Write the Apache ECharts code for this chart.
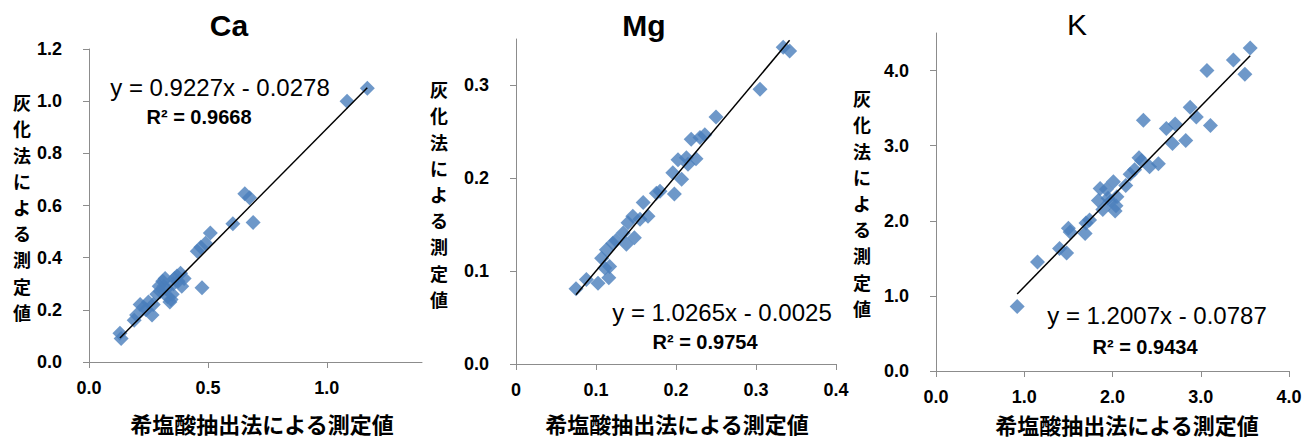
<!DOCTYPE html>
<html>
<head>
<meta charset="utf-8">
<script src="https://cdn.jsdelivr.net/npm/echarts@6/dist/echarts.min.js"></script>
<style>
html,body{margin:0;padding:0;background:#fff;}
#chart{width:1315px;height:439px;}
</style>
</head>
<body>
<div id="chart"></div>
<script>
// ---------- DATA ----------
const panelTitles = ['Ca', 'Mg', 'K'];
const xAxisName = '希塩酸抽出法による測定値';
const yAxisName = '灰化法による測定値';

const caX = [0.13, 0.135, 0.19, 0.20, 0.215, 0.23, 0.24, 0.25, 0.265, 0.27, 0.285, 0.295, 0.30, 0.31, 0.315, 0.32, 0.325, 0.33, 0.34, 0.345, 0.35, 0.355, 0.36, 0.37, 0.375, 0.385, 0.39, 0.40, 0.455, 0.47, 0.49, 0.475, 0.51, 0.605, 0.655, 0.675, 0.69, 1.085, 1.17];
const caY = [0.11, 0.09, 0.16, 0.18, 0.22, 0.21, 0.20, 0.23, 0.18, 0.22, 0.26, 0.29, 0.27, 0.31, 0.29, 0.32, 0.28, 0.25, 0.23, 0.24, 0.26, 0.30, 0.32, 0.33, 0.31, 0.34, 0.29, 0.32, 0.425, 0.44, 0.455, 0.285, 0.495, 0.53, 0.645, 0.63, 0.535, 1.00, 1.05];

const mgX = [0.075, 0.088, 0.1025, 0.107, 0.111, 0.113, 0.116, 0.117, 0.121, 0.125, 0.134, 0.138, 0.140, 0.146, 0.148, 0.155, 0.159, 0.165, 0.1755, 0.18, 0.196, 0.198, 0.2025, 0.207, 0.213, 0.215, 0.219, 0.225, 0.230, 0.236, 0.250, 0.305, 0.334, 0.342];
const mgY = [0.081, 0.091, 0.087, 0.114, 0.1035, 0.123, 0.093, 0.105, 0.130, 0.133, 0.141, 0.129, 0.152, 0.159, 0.136, 0.156, 0.174, 0.159, 0.184, 0.186, 0.206, 0.183, 0.220, 0.199, 0.222, 0.215, 0.242, 0.221, 0.244, 0.247, 0.266, 0.296, 0.341, 0.337];

const kX = [0.92, 1.15, 1.40, 1.48, 1.50, 1.52, 1.69, 1.70, 1.74, 1.84, 1.86, 1.89, 1.93, 1.95, 1.97, 2.01, 2.03, 2.04, 2.05, 2.15, 2.20, 2.25, 2.30, 2.33, 2.35, 2.42, 2.52, 2.61, 2.68, 2.71, 2.83, 2.88, 2.95, 3.07, 3.11, 3.37, 3.50, 3.56];
const kY = [0.86, 1.45, 1.63, 1.57, 1.90, 1.85, 1.83, 1.97, 2.01, 2.27, 2.43, 2.15, 2.42, 2.30, 2.25, 2.52, 2.13, 2.20, 2.32, 2.47, 2.62, 2.68, 2.84, 2.80, 3.34, 2.72, 2.76, 3.23, 3.03, 3.29, 3.07, 3.51, 3.38, 4.00, 3.27, 4.14, 3.95, 4.30];

// trendline coefficients [slope, intercept] and their labels
const caFit = [0.9227, -0.0278];
const mgFit = [1.0265, -0.0025];
const kFit = [1.2007, -0.0787];
const eqLabels = ['y = 0.9227x - 0.0278', 'y = 1.0265x - 0.0025', 'y = 1.2007x - 0.0787'];
const r2Labels = ['R² = 0.9668', 'R² = 0.9754', 'R² = 0.9434'];

// tick values and labels
const caXTicks = [0, 0.5, 1.0];           const caXLabels = ['0.0', '0.5', '1.0'];
const caYTicks = [0, 0.2, 0.4, 0.6, 0.8, 1.0, 1.2]; const caYLabels = ['0.0', '0.2', '0.4', '0.6', '0.8', '1.0', '1.2'];
const mgXTicks = [0, 0.1, 0.2, 0.3, 0.4]; const mgXLabels = ['0', '0.1', '0.2', '0.3', '0.4'];
const mgYTicks = [0, 0.1, 0.2, 0.3];      const mgYLabels = ['0.0', '0.1', '0.2', '0.3'];
const kXTicks = [0, 1, 2, 3, 4];          const kXLabels = ['0.0', '1.0', '2.0', '3.0', '4.0'];
const kYTicks = [0, 1, 2, 3, 4];          const kYLabels = ['0.0', '1.0', '2.0', '3.0', '4.0'];

// ---------- LAYOUT / STYLE ----------
const grids = [
  {left: 89, top: 49, width: 333, height: 313},
  {left: 516, top: 39, width: 320, height: 325},
  {left: 936, top: 33, width: 353, height: 338}
];
const xRanges = [[0, 1.4], [0, 0.4], [0, 4.0]];
const yRanges = [[0, 1.2], [0, 0.35], [0, 4.5]];

const AXIS_COLOR = '#8c8c8c';
const MARK_COLOR = '#4A7EBB';
const NUM_FONT = '"Liberation Sans", Arial, sans-serif';
const JP_FONT = '"Noto Sans CJK JP", sans-serif';

function zip(xs, ys) { return xs.map((x, i) => [x, ys[i]]); }
function fitLine(xs, fit) {
  const lo = Math.min(...xs), hi = Math.max(...xs);
  return [[lo, fit[0] * lo + fit[1]], [hi, fit[0] * hi + fit[1]]];
}
function labelFor(ticks, labels) {
  return function (v) {
    const i = ticks.findIndex(t => Math.abs(t - v) < 1e-9);
    return i >= 0 ? labels[i] : '';
  };
}
function makeAxis(idx, range, ticks, labels, isX) {
  return {
    type: 'value', gridIndex: idx, min: range[0], max: range[1],
    axisLine: {show: true, lineStyle: {color: AXIS_COLOR, width: 1}},
    axisTick: {show: true, inside: false, length: 6, lineStyle: {color: AXIS_COLOR}, customValues: ticks},
    splitLine: {show: false},
    axisLabel: {
      customValues: ticks,
      formatter: labelFor(ticks, labels),
      margin: isX ? 17 : 27,
      color: '#000', fontSize: 18, fontWeight: 'bold', fontFamily: NUM_FONT
    }
  };
}

const xs = [caX, mgX, kX], ys = [caY, mgY, kY], fits = [caFit, mgFit, kFit];
const xTicks = [caXTicks, mgXTicks, kXTicks], xLabels = [caXLabels, mgXLabels, kXLabels];
const yTicks = [caYTicks, mgYTicks, kYTicks], yLabels = [caYLabels, mgYLabels, kYLabels];

const series = [];
for (let i = 0; i < 3; i++) {
  series.push({
    type: 'scatter', xAxisIndex: i, yAxisIndex: i,
    symbol: 'diamond', symbolSize: 15,
    itemStyle: {color: MARK_COLOR},
    data: zip(xs[i], ys[i]), z: 2
  });
  series.push({
    type: 'line', xAxisIndex: i, yAxisIndex: i,
    showSymbol: false, symbol: 'none',
    lineStyle: {color: '#000', width: 1.5},
    data: fitLine(xs[i], fits[i]), z: 3
  });
}

// text positions
const titlePos = [[229, 25], [644, 25], [1077, 24]];
const titleWeight = ['bold', 'bold', 'normal'];
const xNamePos = [[262, 423], [677, 423], [1127, 424]];
const yNamePos = [[22, 207], [439, 194], [862, 203]];
const eqPos = [[220, 87], [722, 312], [1157, 315]];
const r2Pos = [[199, 117], [705, 342], [1145, 347]];
const Y_NAME_STEP = 26.2;

const graphic = [];
for (let i = 0; i < 3; i++) {
  graphic.push({type: 'text', x: titlePos[i][0], y: titlePos[i][1], style: {
    text: panelTitles[i], fill: '#000', fontSize: 30, fontWeight: titleWeight[i], fontFamily: NUM_FONT,
    align: 'center', verticalAlign: 'middle'}});
  graphic.push({type: 'text', x: xNamePos[i][0], y: xNamePos[i][1], style: {
    text: xAxisName, fill: '#000', fontSize: 22, fontWeight: 'bold', fontFamily: JP_FONT,
    align: 'center', verticalAlign: 'middle'}});
  const chars = yAxisName.split('');
  chars.forEach((ch, k) => {
    graphic.push({type: 'text', x: yNamePos[i][0],
      y: yNamePos[i][1] + (k - (chars.length - 1) / 2) * Y_NAME_STEP,
      style: {text: ch, fill: '#000', fontSize: 18, fontWeight: 'bold', fontFamily: JP_FONT,
        align: 'center', verticalAlign: 'middle'}});
  });
  graphic.push({type: 'text', x: eqPos[i][0], y: eqPos[i][1], style: {
    text: eqLabels[i], fill: '#000', fontSize: 24, fontFamily: NUM_FONT,
    align: 'center', verticalAlign: 'middle'}});
  graphic.push({type: 'text', x: r2Pos[i][0], y: r2Pos[i][1], style: {
    text: r2Labels[i], fill: '#000', fontSize: 20, fontWeight: 'bold', fontFamily: NUM_FONT,
    align: 'center', verticalAlign: 'middle'}});
}

const option = {
  backgroundColor: '#fff',
  animation: false,
  grid: grids,
  xAxis: [0, 1, 2].map(i => makeAxis(i, xRanges[i], xTicks[i], xLabels[i], true)),
  yAxis: [0, 1, 2].map(i => makeAxis(i, yRanges[i], yTicks[i], yLabels[i], false)),
  series: series,
  graphic: graphic
};

const chart = echarts.init(document.getElementById('chart'), null, {renderer: 'svg'});
chart.setOption(option);
</script>
</body>
</html>
